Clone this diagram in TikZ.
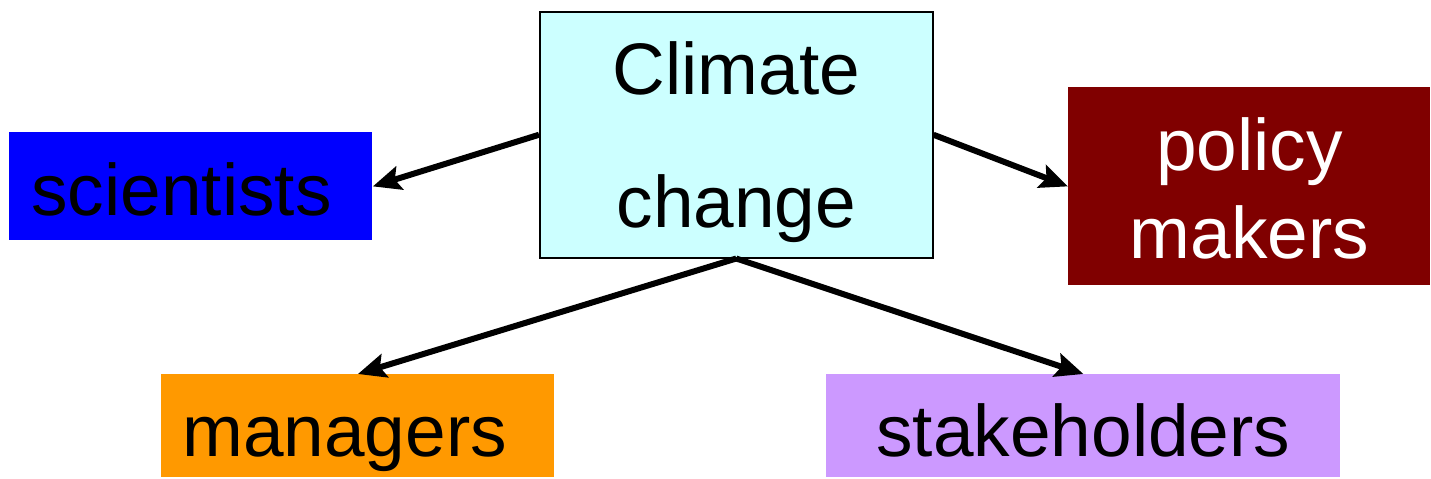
\documentclass[tikz,border=0pt]{standalone}
\usepackage{fontspec}
\setmainfont{Liberation Sans}
\usetikzlibrary{positioning,arrows.meta}
\definecolor{climC}{RGB}{204,255,255}
\definecolor{sciC}{RGB}{0,0,255}
\definecolor{polC}{RGB}{128,0,0}
\definecolor{manC}{RGB}{255,153,0}
\definecolor{stkC}{RGB}{204,153,255}

\begin{document}
\begin{tikzpicture}[
  x=0.5pt, y=-0.5pt,
  box/.style={inner xsep=0pt, inner ysep=0pt, anchor=north west,
              font=\fontsize{36.5}{44}\selectfont},
  topic/.style={box, draw=black, line width=0.75pt, fill=climC, align=center,
                minimum width=196.5pt, text height=108pt, text depth=15pt,
                font=\fontsize{36.5}{66.5}\selectfont},
  sci/.style={box, fill=sciC, inner xsep=11pt, text width=159.5pt, align=left,
              text height=41.5pt, text depth=12.5pt},
  pol/.style={box, fill=polC, text=white, align=center, minimum width=181pt,
              text height=85.5pt, text depth=13.5pt},
  man/.style={box, fill=manC, inner xsep=10.5pt, text width=175.5pt, align=left,
              text height=41pt, text depth=10.5pt},
  stk/.style={box, fill=stkC, align=center, minimum width=257pt,
              text height=41pt, text depth=10.5pt},
  link/.style={-{Stealth[length=14pt, width=12pt, inset=2.5pt]}, line width=3pt},
]
\useasboundingbox (0,0) rectangle (1431,478);

% ---------------- boxes ----------------
\node[topic] (cc)  at (539,11)   {Climate\\change};
\node[sci]   (sci) at (9,132)    {scientists};
\node[pol]   (pol) at (1068,87)  {policy\\makers};
\node[man]   (man) at (161,374)  {managers};
\node[stk]   (stk) at (826,374)  {stakeholders};

% ---------------- arrows ----------------
\draw[link] (cc.west)  -- (sci.east);
\draw[link] (cc.east)  -- (pol.west);
\draw[link] (cc.south) -- (man.north);
\draw[link] (cc.south) -- (stk.north);

\end{tikzpicture}
\end{document}
